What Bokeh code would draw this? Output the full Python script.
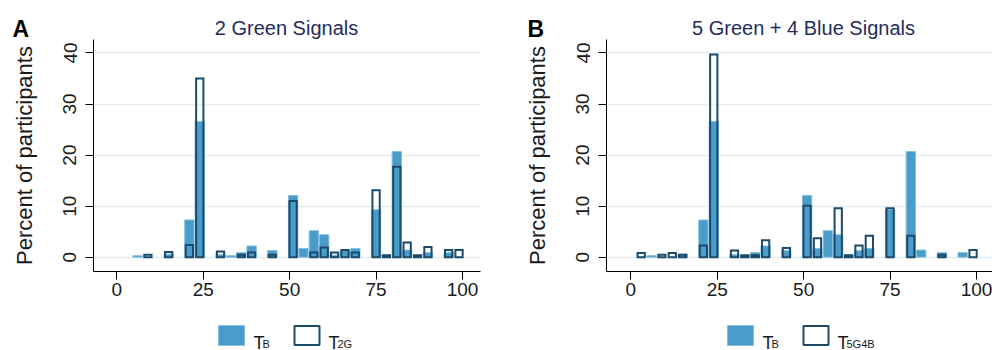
from bokeh.plotting import figure
from bokeh.layouts import column, row
from bokeh.models import Range1d, FixedTicker, ColumnDataSource, Label
from bokeh.embed import file_html
from bokeh.resources import INLINE

# ---------------- data ----------------
bins = [3, 6, 9, 12, 15, 18, 21, 24, 27, 30, 33, 36, 39, 42, 45, 48, 51,
        54, 57, 60, 63, 66, 69, 72, 75, 78, 81, 84, 87, 90, 93, 96, 99]
t_b = [0, 0.3, 0, 0, 0.6, 0, 7.3, 26.6, 0, 0.5, 0.3, 0.9, 2.2, 0, 1.3, 0, 12.1,
       1.7, 5.2, 4.4, 0.4, 1.3, 1.7, 0, 9.3, 0, 20.7, 1.4, 0, 0.9, 0, 0.9, 0]
t_2g = [0, 0, 0.5, 0, 1.0, 0, 2.4, 35.0, 0, 1.1, 0, 0.5, 0.9, 0, 0.5, 0, 11.0,
        0, 0.9, 1.9, 0.9, 1.4, 0.9, 0, 13.1, 0.4, 17.7, 2.9, 0.4, 2.0, 0, 1.4, 1.4]
t_5g4b = [0.8, 0, 0.5, 0.8, 0.5, 0, 2.3, 39.7, 0, 1.3, 0.4, 0.4, 3.3, 0, 1.8, 0, 10.1,
          3.7, 0, 9.6, 0.4, 2.3, 4.2, 0, 9.6, 0, 4.2, 0, 0, 0.5, 0, 0, 1.4]
x_ticks = [0, 25, 50, 75, 100]
y_ticks = [0, 10, 20, 30, 40]
titles = ["2 Green Signals", "5 Green + 4 Blue Signals"]
letters = ["A", "B"]
legend_subs = [("B", "2G"), ("B", "5G4B")]
y_label = "Percent of participants"

FONT = "Liberation Sans"
BLUE = "#4a9cc9"
BLUE_EDGE = "#86bfdf"
NAVY = "#1b4a6b"
TITLE_COL = "#1f2d5c"
GRID = "#e4eef1"
TXT = "#1a1a1a"


def nonzero(vals):
    xs = [b for b, v in zip(bins, vals) if v > 0]
    ys = [v for v in vals if v > 0]
    return xs, ys


def blank(x_start, height, y0, y1):
    f = figure(width=496, height=height, x_range=Range1d(x_start, x_start + 496),
               y_range=Range1d(y0, y1), output_backend="svg", toolbar_location=None,
               x_axis_location=None, y_axis_location=None, min_border=0)
    f.grid.visible = False
    f.outline_line_color = None
    return f


def label(f, x, y, text, size, color=TXT, style="normal", align="left"):
    f.add_layout(Label(x=x, y=y, text=text, text_font=FONT, text_font_size=size,
                       text_font_style=style, text_color=color,
                       text_baseline="alphabetic", text_align=align))


def make_header(x_start, letter, letter_x, title, title_cx):
    h = blank(x_start, 39, 39, 0)
    label(h, letter_x, 28, letter, "23px", color="black", style="bold")
    label(h, title_cx, 27, title, "20px", color=TITLE_COL, align="center")
    return h


def make_panel(treat, lb, rb, xr):
    p = figure(width=496, height=266, x_range=Range1d(*xr), y_range=Range1d(-2.8, 42.64),
               output_backend="svg", toolbar_location=None,
               min_border_left=lb, min_border_right=rb, min_border_top=0, min_border_bottom=34)
    p.outline_line_color = None
    p.background_fill_color = "white"
    p.border_fill_color = "white"

    # baseline histogram T_B
    bx, by = nonzero(t_b)
    src_b = ColumnDataSource(dict(l=[b - 1.35 for b in bx], r=[b + 1.35 for b in bx], t=by))
    p.quad(left="l", right="r", bottom=0, top="t", source=src_b,
           fill_color=BLUE, line_color=BLUE_EDGE, line_width=1)
    # treatment histogram outline
    tx, ty = nonzero(treat)
    src_t = ColumnDataSource(dict(l=[b - 1.05 for b in tx], r=[b + 1.05 for b in tx], t=ty))
    p.quad(left="l", right="r", bottom=0, top="t", source=src_t,
           fill_alpha=0, line_color=NAVY, line_width=2, line_join="miter")

    for ax in (p.xaxis[0], p.yaxis[0]):
        ax.axis_line_color = "black"
        ax.major_tick_line_color = "black"
        ax.minor_tick_line_color = None
        ax.major_tick_out = 8
        ax.major_tick_in = 0
        ax.major_label_text_font = FONT
        ax.major_label_text_font_size = "19px"
        ax.major_label_text_color = TXT
    p.xaxis.ticker = FixedTicker(ticks=x_ticks)
    p.yaxis.ticker = FixedTicker(ticks=y_ticks)
    p.xgrid.grid_line_color = None
    p.ygrid.ticker = FixedTicker(ticks=y_ticks)
    p.ygrid.grid_line_color = GRID
    p.ygrid.grid_line_width = 1.5
    p.xaxis.major_label_standoff = 3
    p.yaxis.major_label_orientation = "vertical"
    p.yaxis.major_label_standoff = 9
    p.yaxis.axis_label = y_label
    p.yaxis.axis_label_text_font = FONT
    p.yaxis.axis_label_text_font_size = "22px"
    p.yaxis.axis_label_text_font_style = "normal"
    p.yaxis.axis_label_text_color = TXT
    p.yaxis.axis_label_standoff = 24
    return p


def make_legend(x0, subs, x_start):
    lg = blank(x_start, 45, 350, 305)
    lg.quad(left=[x0], right=[x0 + 26], top=[325], bottom=[345],
            fill_color=BLUE, line_color=BLUE_EDGE, line_width=1)
    lg.quad(left=[x0 + 76], right=[x0 + 101], top=[325.5], bottom=[344.5],
            fill_color="white", line_color=NAVY, line_width=2)
    label(lg, x0 + 35, 342, "T", "18px")
    label(lg, x0 + 44, 343.5, subs[0], "11px")
    label(lg, x0 + 110, 342, "T", "18px")
    label(lg, x0 + 119, 343.5, subs[1], "11px")
    return lg


hA = make_header(0, letters[0], 12, titles[0], 286)
hB = make_header(496, letters[1], 527, titles[1], 803)
pA = make_panel(t_2g, 93, 16, (-6.74, 105.21))
pB = make_panel(t_5g4b, 110, 0, (-7.03, 104.63))
lA = make_legend(218, legend_subs[0], 0)
lB = make_legend(727, legend_subs[1], 496)

layout = column(row(hA, hB), row(pA, pB), row(lA, lB))
open("out.html", "w").write(file_html(layout, INLINE))
